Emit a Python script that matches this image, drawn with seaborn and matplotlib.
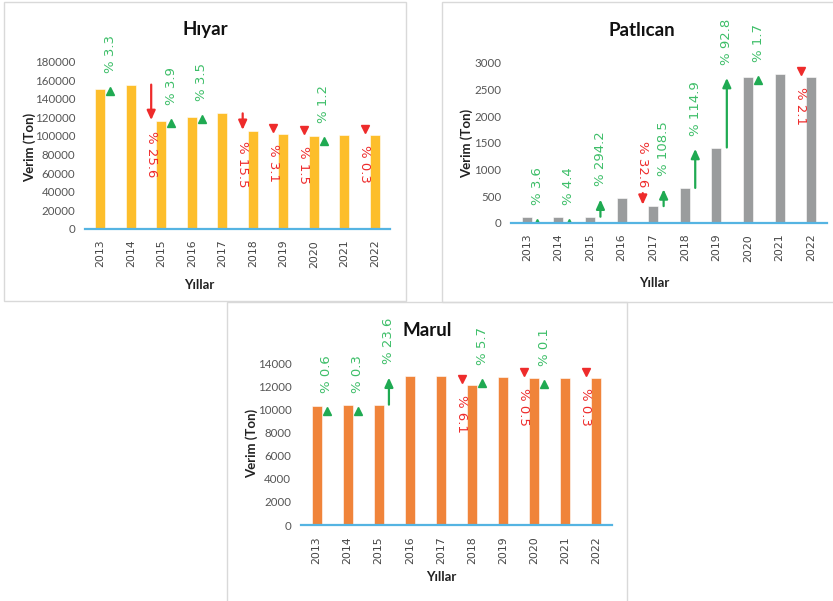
import matplotlib
matplotlib.use("Agg")
import matplotlib.pyplot as plt
import seaborn as sns
from matplotlib.patches import Rectangle
from matplotlib.transforms import offset_copy

# Veriler
years = ["2013", "2014", "2015", "2016", "2017", "2018", "2019", "2020", "2021", "2022"]

hiyar = [150300, 155300, 115600, 120100, 124300, 105000, 101700, 100200, 101400, 101100]
hiyar_pct = [3.3, -25.6, 3.9, 3.5, -15.5, -3.1, -1.5, 1.2, -0.3]

patlican = [100, 104, 112, 460, 311, 652, 1410, 2740, 2790, 2735]
patlican_pct = [3.6, 4.4, 294.2, -32.6, 108.5, 114.9, 92.8, 1.7, -2.1]

marul = [10330, 10390, 10420, 12880, 12880, 12100, 12790, 12730, 12740, 12700]
marul_pct = [0.6, 0.3, 23.6, None, -6.1, 5.7, -0.5, 0.1, -0.3]

W, H = 833, 601
GREEN_TXT = "#3DBE68"
GREEN = "#1FAA52"
RED = "#EE2B2B"
PT = 0.72  # px -> pt (dpi 100)

sns.set_style("white")
fig = plt.figure(figsize=(W / 100, H / 100), dpi=100)


def px_box(x0, y0, x1, y1):
    return [x0 / W, 1 - y1 / H, (x1 - x0) / W, (y1 - y0) / H]


def draw_panel(ax, values, pct, color, ymax, step, above=()):
    sns.barplot(x=years, y=values, color=color, width=0.32, saturation=1,
                edgecolor="white", linewidth=0.4, ax=ax)
    ax.set_xlim(-0.5, 9.5)
    ax.set_ylim(0, ymax)
    ax.set_yticks(range(0, ymax + 1, step))
    for s in ["top", "right", "left"]:
        ax.spines[s].set_visible(False)
    ax.spines["bottom"].set_color("#55B4E2")
    ax.spines["bottom"].set_linewidth(1.6)
    ax.spines["bottom"].set_zorder(5)
    ax.tick_params(axis="y", length=0, pad=7, labelsize=8.3, labelcolor="#555555",
                   labelfontfamily="Lato")
    ax.tick_params(axis="x", length=0, pad=8, labelsize=7.8, labelcolor="#444444",
                   labelrotation=90, labelfontfamily="DejaVu Sans")

    px_per_unit = ax.get_position().height * H / ymax

    for i, p in enumerate(pct):
        if p is None:
            continue
        v0, v1 = values[i], values[i + 1]
        up = p > 0
        x = i + 0.33 if up else i + 0.67
        col = GREEN if up else RED
        if abs(p) > 10:
            # kisa oklarda en az 13 px boy
            length = abs(v1 - v0) * px_per_unit
            if length < 13:
                start, coords = (0, (-13 if up else 13) * PT), "offset points"
            else:
                start, coords = (x, v0), "data"
            ax.annotate("", xy=(x, v1), xytext=start, textcoords=coords,
                        arrowprops=dict(arrowstyle="-|>,head_length=0.55,head_width=0.25",
                                        color=col, lw=1.6, shrinkA=0, shrinkB=1,
                                        mutation_scale=10),
                        annotation_clip=False)
        else:
            tr = offset_copy(ax.transData, fig=fig, y=(-6 if up else 6) * PT, units="points")
            ax.plot([x], [v1], marker="^" if up else "v", ms=6.2, color=col,
                    linestyle="none", transform=tr, clip_on=True)
        lab = f"% {abs(p):.1f}"
        if up:
            tr = offset_copy(ax.transData, fig=fig, y=12 * PT, units="points")
            ax.text(x, v1, lab, rotation=90, ha="center", va="bottom", color=GREEN_TXT,
                    fontsize=9.5, transform=tr, clip_on=False)
        elif i in above:
            tr = offset_copy(ax.transData, fig=fig, y=11 * PT, units="points")
            ax.text(x, v0, lab, rotation=270, ha="center", va="bottom", color=RED,
                    fontsize=9.5, transform=tr, clip_on=False)
        else:
            tr = offset_copy(ax.transData, fig=fig, y=-10 * PT, units="points")
            ax.text(x, v1, lab, rotation=270, ha="center", va="top", color=RED,
                    fontsize=9.5, transform=tr, clip_on=False)

    ax.set_xlabel("")
    ax.set_ylabel("")


panels = [
    # values, pct, color, ymax, step, axes box(px), title, title pos, ylabel pos, xlabel pos, frame
    (hiyar, hiyar_pct, "#FDBE2B", 180000, 20000, (85, 61.7, 390, 228.7), "Hıyar",
     (205, 29), (30, 147), (199, 285), (4, 1.7, 405.5, 301), ()),
    (patlican, patlican_pct, "#9A9C9D", 3000, 500, (511, 62.7, 827, 222.7), "Patlıcan",
     (642, 30), (466.7, 143), (654, 283), (441.5, 1.7, 845, 302), (3,)),
    (marul, marul_pct, "#F0843A", 14000, 2000, (301, 363.3, 611.7, 525), "Marul",
     (427, 330), (251.7, 443), (441.7, 577), (227, 302, 627, 615), ()),
]

for vals, pct, col, ymax, step, box, title, tpos, ylpos, xlpos, frame, above in panels:
    fig.add_artist(Rectangle((frame[0] / W, 1 - frame[3] / H), (frame[2] - frame[0]) / W,
                             (frame[3] - frame[1]) / H, transform=fig.transFigure,
                             fill=False, edgecolor="#D9D9D9", linewidth=1))
    ax = fig.add_axes(px_box(*box))
    draw_panel(ax, vals, pct, col, ymax, step, above)
    fig.text(tpos[0] / W, 1 - tpos[1] / H, title, ha="center", va="center",
             fontsize=13.5, fontweight="bold", family="Lato", color="#111111")
    fig.text(ylpos[0] / W, 1 - ylpos[1] / H, "Verim (Ton)", rotation=90, ha="center",
             va="center", fontsize=9.5, fontweight="bold", family="Lato", color="#222222")
    fig.text(xlpos[0] / W, 1 - xlpos[1] / H, "Yıllar", ha="center", va="center",
             fontsize=9.5, fontweight="bold", family="Lato", color="#222222")

fig.savefig("out.png", dpi=100)
